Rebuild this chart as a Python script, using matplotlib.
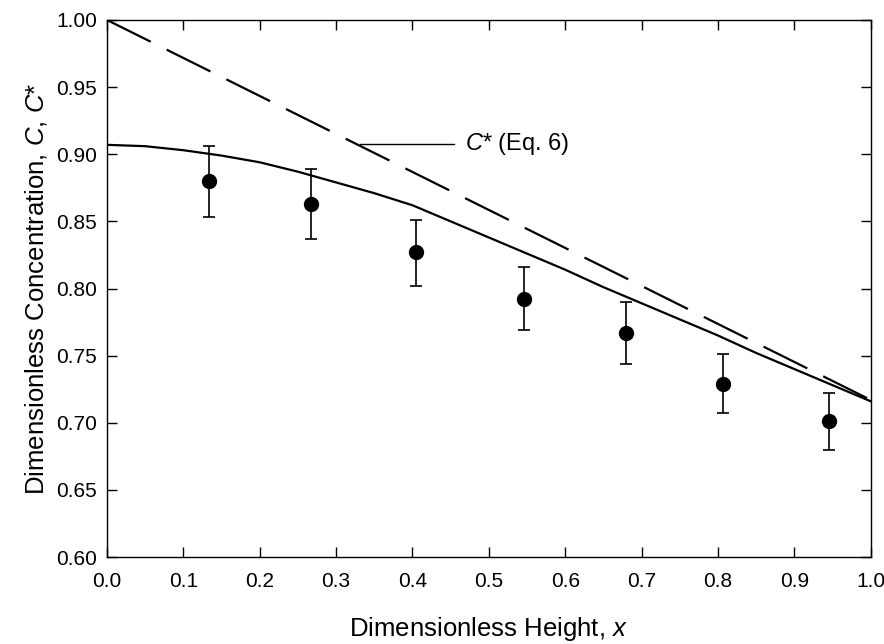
import matplotlib
matplotlib.use("Agg")
import matplotlib.pyplot as plt

# measured points with error bars
x_data = [0.133, 0.267, 0.405, 0.546, 0.680, 0.807, 0.945]
c_data = [0.880, 0.863, 0.827, 0.792, 0.767, 0.729, 0.701]
c_upper = [0.906, 0.889, 0.851, 0.816, 0.790, 0.751, 0.722]
c_lower = [0.853, 0.837, 0.802, 0.769, 0.744, 0.707, 0.680]

# solid model curve
x_model = [0.00, 0.05, 0.10, 0.15, 0.20, 0.25, 0.30, 0.35, 0.40, 0.45, 0.50,
           0.55, 0.60, 0.65, 0.70, 0.75, 0.80, 0.85, 0.90, 0.95, 1.00]
c_model = [0.907, 0.906, 0.903, 0.899, 0.894, 0.887, 0.879, 0.871, 0.862, 0.850, 0.838,
           0.826, 0.814, 0.801, 0.789, 0.777, 0.765, 0.752, 0.740, 0.728, 0.716]

# dashed C* line (Eq. 6)
x_star = [0.0, 1.0]
c_star = [1.000, 0.717]

plt.rcParams['font.family'] = ['Liberation Sans', 'DejaVu Sans']
plt.rcParams['mathtext.fontset'] = 'custom'
plt.rcParams['mathtext.rm'] = 'Liberation Sans'
plt.rcParams['mathtext.it'] = 'Liberation Sans:italic'

fig = plt.figure(figsize=(8.84, 6.44), dpi=100)
ax = fig.add_axes([0.121, 0.135, 0.864, 0.834])

ax.plot(x_model, c_model, color='black', lw=1.6)
ax.plot(x_star, c_star, color='black', lw=1.6, dashes=(22, 8))

yerr = [[c - lo for c, lo in zip(c_data, c_lower)],
        [hi - c for c, hi in zip(c_data, c_upper)]]
ax.errorbar(x_data, c_data, yerr=yerr, fmt='o', color='black', ms=10,
            ecolor='black', elinewidth=1.2, capsize=4.5, capthick=1.2)

# label pointer for the dashed line
ax.plot([0.331, 0.455], [0.9074, 0.9074], color='black', lw=1.0)
ax.text(0.469, 0.9074, r'$C$* (Eq. 6)', fontsize=17, va='center', ha='left')

ax.set_xlim(0, 1.0)
ax.set_ylim(0.60, 1.00)
ax.set_xticks([i / 10 for i in range(11)])
ax.set_yticks([0.60 + 0.05 * i for i in range(9)])
ax.set_xticklabels(['%.1f' % (i / 10) for i in range(11)], fontsize=15)
ax.set_yticklabels(['%.2f' % (0.60 + 0.05 * i) for i in range(9)], fontsize=15)
ax.tick_params(direction='in', length=7, width=1.0, top=True, right=True)
ax.tick_params(axis='x', pad=11)
ax.tick_params(axis='y', pad=7)

ax.set_xlabel(r'Dimensionless Height, $x$', fontsize=18.5, labelpad=17)
ax.set_ylabel(r'Dimensionless Concentration, $C$, $C$*', fontsize=18.5, labelpad=5)

for s in ax.spines.values():
    s.set_linewidth(1.0)

fig.savefig('out.png', dpi=100)
